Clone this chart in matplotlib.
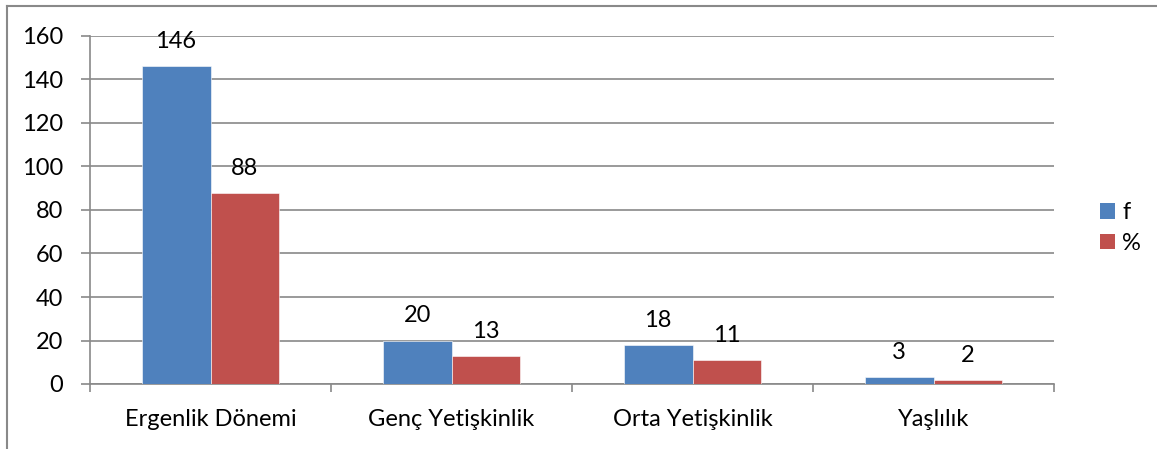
import matplotlib
matplotlib.use("Agg")
import matplotlib.pyplot as plt
import numpy as np
from matplotlib.lines import Line2D
from matplotlib.patches import Patch

categories = ["Ergenlik Dönemi", "Genç Yetişkinlik", "Orta Yetişkinlik", "Yaşlılık"]
f_values = [146, 20, 18, 3]
pct_values = [88, 13, 11, 2]
series_names = ["f", "%"]
y_ticks = [0, 20, 40, 60, 80, 100, 120, 140, 160]

plt.rcParams['font.family'] = ['Lato', 'DejaVu Sans']
BLUE = "#4F81BD"
RED = "#C0504D"
GRID = "#898989"
FS = 17

fig = plt.figure(figsize=(11.57, 4.49), dpi=100)
ax = fig.add_axes([90/1157, 1-384/449, (1054-90)/1157, (384-36)/449])

x = np.arange(len(categories))
w = 1/3.5
b1 = ax.bar(x - w/2, f_values, w, color=BLUE, edgecolor="white", linewidth=0.4, label=series_names[0], zorder=3)
b2 = ax.bar(x + w/2, pct_values, w, color=RED, edgecolor="white", linewidth=0.4, label=series_names[1], zorder=3)

for bars, vals in ((b1, f_values), (b2, pct_values)):
    for rect, v in zip(bars, vals):
        ax.annotate(str(v), (rect.get_x() + rect.get_width()/2, rect.get_height()),
                    xytext=(0, 13), textcoords="offset points", ha="center", va="baseline",
                    fontsize=FS, color="black", zorder=4)

ax.set_xlim(-0.5, len(categories) - 0.5)
ax.set_ylim(0, 160)
ax.set_yticks(y_ticks)
ax.set_yticklabels([str(t) for t in y_ticks], fontsize=FS)
ax.yaxis.grid(True, color=GRID, linewidth=1.2, zorder=0)
ax.set_axisbelow(True)

ax.set_xticks(np.arange(len(categories) + 1) - 0.5)
ax.set_xticklabels([])
ax.set_xticks(x, minor=True)
ax.set_xticklabels(categories, minor=True, fontsize=FS)
ax.tick_params(axis="x", which="major", length=6, width=1.2, color=GRID, direction="out")
ax.tick_params(axis="x", which="minor", length=0, pad=18)
ax.tick_params(axis="y", length=6.5, width=1.2, color=GRID, direction="out", pad=13)

for s in ("top", "right"):
    ax.spines[s].set_visible(False)
for s in ("left", "bottom"):
    ax.spines[s].set_color(GRID)
    ax.spines[s].set_linewidth(1.2)

handles = [Patch(facecolor=BLUE, label=series_names[0]), Patch(facecolor=RED, label=series_names[1])]
fig.legend(handles=handles, loc="center left", bbox_to_anchor=(1088/1157, 1-228/449),
           frameon=False, fontsize=FS, handlelength=0.65, handleheight=0.65,
           handletextpad=0.3, labelspacing=0.4, borderpad=0)

# outer chart border (top and left visible)
fig.add_artist(Line2D([6.5/1157, 1.0], [1-5.5/449, 1-5.5/449], transform=fig.transFigure, color=GRID, linewidth=1.5))
fig.add_artist(Line2D([6.5/1157, 6.5/1157], [0, 1-5.5/449], transform=fig.transFigure, color=GRID, linewidth=1.5))

fig.savefig("out.png", dpi=100)
